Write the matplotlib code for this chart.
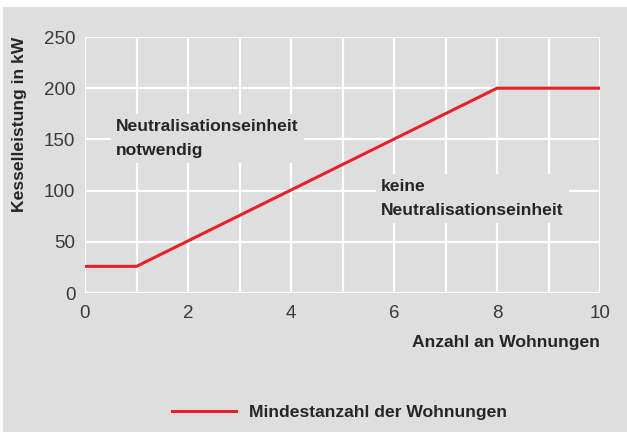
import matplotlib
matplotlib.use("Agg")
import matplotlib.pyplot as plt
from matplotlib.patches import Rectangle

# Mindestanzahl der Wohnungen: Kesselleistung über Anzahl Wohnungen
wohnungen = [0, 1, 8, 10]
leistung_kw = [26, 26, 200, 200]

x_ticks = [0, 2, 4, 6, 8, 10]
y_ticks = [0, 50, 100, 150, 200, 250]

BG = "#dedede"
RED = "#e8202a"
TXT = "#262626"
FS = 12.6

plt.rcParams["font.family"] = ["Liberation Sans", "DejaVu Sans"]

fig = plt.figure(figsize=(6.27, 4.32), dpi=100, facecolor="white")
fig.patches.append(Rectangle((3 / 627, 0), 1, 1 - 7 / 432, transform=fig.transFigure,
                             facecolor=BG, edgecolor="none", zorder=-10))

ax = fig.add_axes([85 / 627, 1 - 293 / 432, 515 / 627, 256 / 432])
ax.set_facecolor(BG)
ax.set_xlim(0, 10)
ax.set_ylim(0, 250)

# grid: every apartment and every 50 kW
for xv in range(0, 11):
    ax.axvline(xv, color="white", lw=1.6, zorder=1)
for yv in y_ticks:
    ax.axhline(yv, color="white", lw=1.6, zorder=1)

for s in ax.spines.values():
    s.set_visible(False)

ax.set_xticks(x_ticks)
ax.set_yticks(y_ticks)
ax.tick_params(length=0, labelsize=13.5, labelcolor="#3a3a3a")
ax.tick_params(axis="x", pad=8.5)
ax.tick_params(axis="y", pad=7)

ax.plot(wohnungen, leistung_kw, color=RED, lw=2.2, zorder=3,
        solid_joinstyle="miter", label="Mindestanzahl der Wohnungen")

box = dict(boxstyle="square,pad=0.3", facecolor=BG, edgecolor="none")
ax.text(0.6, 170, "Neutralisationseinheit\nnotwendig", fontsize=FS, fontweight="bold",
        color=TXT, va="top", ha="left", linespacing=1.75, bbox=box, zorder=4)
ax.text(5.75, 111, "keine\nNeutralisationseinheit", fontsize=FS, fontweight="bold",
        color=TXT, va="top", ha="left", linespacing=1.7, bbox=box, zorder=4)

fig.text(20 / 627, 1 - 37 / 432, "Kesselleistung in kW", rotation=90, fontsize=FS,
         fontweight="bold", color=TXT, ha="center", va="top")
fig.text(600 / 627, 1 - 342 / 432, "Anzahl an Wohnungen", fontsize=FS,
         fontweight="bold", color=TXT, ha="right", va="center")

leg = fig.legend(loc="center", bbox_to_anchor=(339 / 627, 1 - 412 / 432), frameon=False,
                 prop={"weight": "bold", "size": FS}, handlelength=3.7, handletextpad=0.7)
for t in leg.get_texts():
    t.set_color(TXT)

fig.savefig("out.png", dpi=100, facecolor=fig.get_facecolor())
